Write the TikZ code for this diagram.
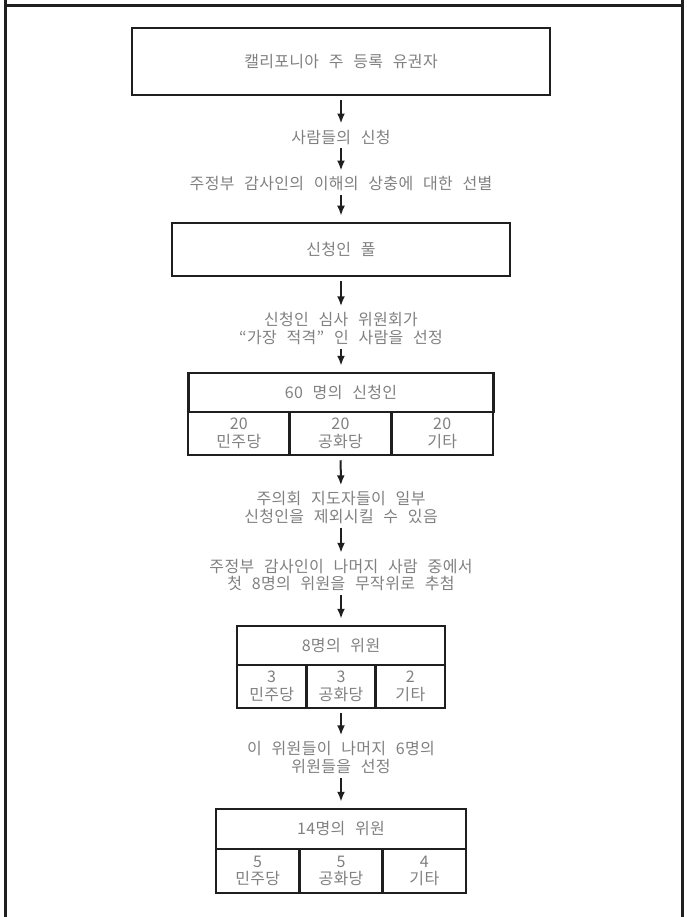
\documentclass[tikz,border=0pt]{standalone}
\usepackage{fontspec}
\setmainfont{Noto Sans CJK KR}[LetterSpace=2, WordSpace=2.5]
\usepackage{tikz}
\usetikzlibrary{positioning}
\usetikzlibrary{arrows.meta}
\definecolor{Ink}{rgb}{0.12, 0.12, 0.12}
\definecolor{Grey}{rgb}{0.5, 0.5, 0.5}

\tikzset{
  box/.style={draw=Ink, line width=2.5pt, text=Grey, inner sep=0pt},
  cell/.style={box, minimum height=43, align=center},
  note/.style={text=Grey, align=center, inner sep=0pt},
  flow/.style={Ink, line width=2pt, ->, shorten <=4pt, shorten >=6pt},
}

\begin{document}
\begin{tikzpicture}[x=1pt, y=-1pt, >={Latex[length=10pt,width=8pt]},
  font=\fontsize{16}{17.5}\selectfont]
\useasboundingbox (0,0) rectangle (687,917);

% frame
\draw[Ink, line width=3pt] (5,0) -- (5,917);
\draw[Ink, line width=3pt] (682.5,0) -- (682.5,917);
\draw[Ink, line width=3pt] (5,6) -- (682.5,6);

\node[box, minimum width=418, minimum height=67] at (341,61.5) (voters) {캘리포니아 주 등록 유권자};
\node[note] at (341,137) (apply) {사람들의 신청};
\node[note] at (341,184) (screen) {주정부 감사인의 이해의 상충에 대한 선별};
\node[box, minimum width=338, minimum height=53] at (341,249.5) (pool) {신청인 풀};
\node[note] at (341,328.5) (panel) {신청인 심사 위원회가\\“가장 적격” 인 사람을 선정};

% 60 applicants
\node[box, minimum width=305, minimum height=39] at (341,392.5) (sixty) {60 명의 신청인};
\foreach \p [count=\k] in {민주당, 공화당, 기타}
  \node[cell, minimum width=305/3] at ({188+(\k-0.5)*305/3},433.5) (sixty-\k) {20\\\p};

\node[note] at (341,507.5) (strike) {주의회 지도자들이 일부\\신청인을 제외시킬 수 있음};
\node[note] at (341,575) (lottery) {주정부 감사인이 나머지 사람 중에서\\첫 8명의 위원을 무작위로 추첨};

% first 8
\node[box, minimum width=208, minimum height=39] at (341,645.5) (eight) {8명의 위원};
\foreach \p / \n [count=\k] in {민주당/3, 공화당/3, 기타/2}
  \node[cell, minimum width=208/3] at ({237+(\k-0.5)*208/3},686.5) (eight-\k) {\n\\\p};

\node[note] at (341,757.5) (choose) {이 위원들이 나머지 6명의\\위원들을 선정};

% all 14
\node[box, minimum width=250, minimum height=40] at (341,829) (all) {14명의 위원};
\foreach \p / \n [count=\k] in {민주당/5, 공화당/5, 기타/4}
  \node[cell, minimum width=250/3, minimum height=44] at ({216+(\k-0.5)*250/3},871) (all-\k) {\n\\\p};

\draw[flow] (voters) -- (apply);
\draw[flow] (apply) -- (screen);
\draw[flow] (screen) -- (pool);
\draw[flow] (pool) -- (panel);
\draw[flow] (panel) -- (sixty);
\draw[flow] (sixty-2) -- (strike);
\draw[flow] (strike) -- (lottery);
\draw[flow] (lottery) -- (eight);
\draw[flow] (eight-2) -- (choose);
\draw[flow] (choose) -- (all);

\end{tikzpicture}
\end{document}
